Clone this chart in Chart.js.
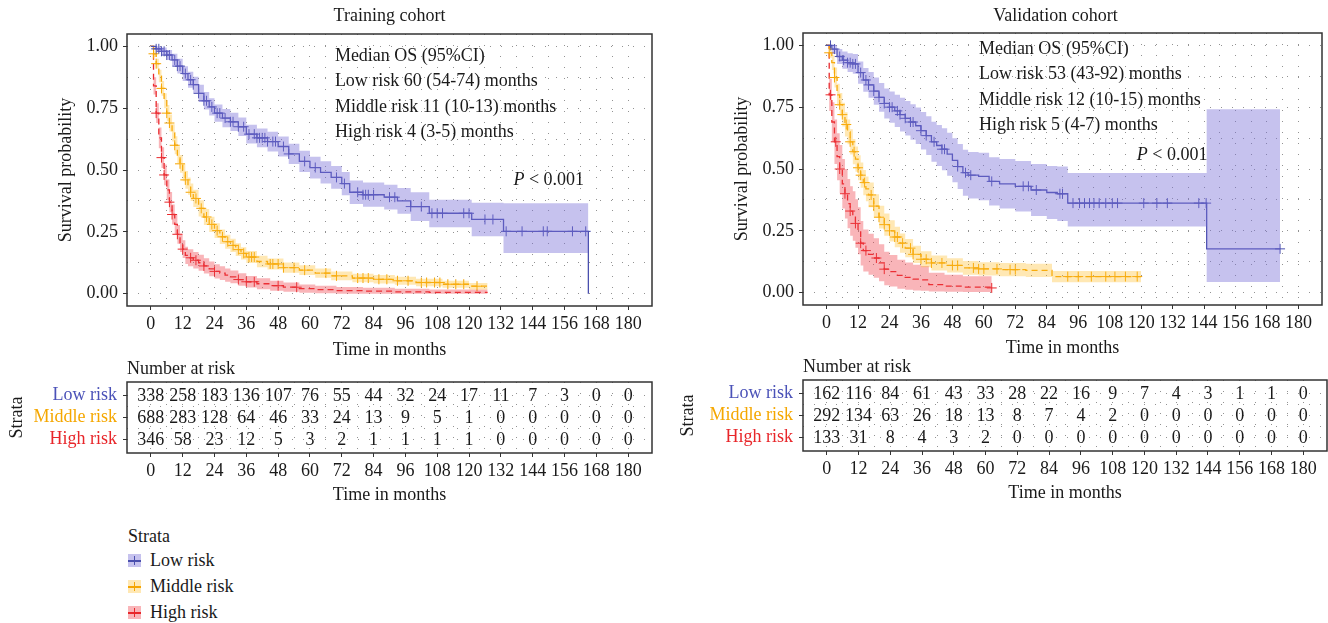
<!DOCTYPE html>
<html>
<head>
<meta charset="utf-8">
<script src="https://cdn.jsdelivr.net/npm/chart.js@4.4.0/dist/chart.umd.min.js"></script>
<style>
  body { margin: 0; width: 1328px; height: 623px; background: #fff; position: relative; overflow: hidden; font-family: 'Liberation Serif', serif; color: #1a1a1a; }
  canvas { position: absolute; }
  #legend { position: absolute; left: 128px; top: 525px; font-size: 18px; }
  #legend .head { height: 22px; line-height: 22px; }
  #legend .item { position: relative; height: 26px; line-height: 26px; padding-left: 22px; }
  #legend .sym { position: absolute; left: 0; top: 7px; width: 13px; height: 13px; }
  #legend .sym i { position: absolute; display: block; }
</style>
</head>
<body>
<canvas id="trainKm" width="664" height="365" style="left:0;top:0"></canvas>
<canvas id="validKm" width="664" height="363" style="left:664px;top:0"></canvas>
<canvas id="trainRisk" width="664" height="150" style="left:0;top:360px"></canvas>
<canvas id="validRisk" width="664" height="150" style="left:664px;top:358px"></canvas>
<div id="legend"></div>

<script>
// ---- tick labels / categories ----
const monthTicks = [0, 12, 24, 36, 48, 60, 72, 84, 96, 108, 120, 132, 144, 156, 168, 180];
const survTicks = [0, 0.25, 0.5, 0.75, 1];
const strata = ['Low risk', 'Middle risk', 'High risk'];

// ---- training cohort: KM estimates, 95% CI, censor times ----
const trLowT  = [0, 2, 4, 6, 8, 10, 12, 14, 16, 18, 20, 22, 24, 27, 30, 33, 36, 40, 44, 48, 52, 56, 60, 64, 68, 72, 75, 80, 88, 93, 98, 105, 121, 133, 165];
const trLowS  = [1, 0.99, 0.98, 0.965, 0.945, 0.92, 0.89, 0.865, 0.845, 0.81, 0.78, 0.755, 0.73, 0.71, 0.695, 0.675, 0.645, 0.63, 0.615, 0.595, 0.565, 0.535, 0.51, 0.49, 0.47, 0.445, 0.41, 0.4, 0.39, 0.375, 0.352, 0.325, 0.3, 0.252, 0];
const trLowHi = [1, 1, 0.995, 0.985, 0.97, 0.95, 0.92, 0.897, 0.877, 0.845, 0.815, 0.79, 0.765, 0.747, 0.732, 0.712, 0.683, 0.668, 0.655, 0.635, 0.606, 0.578, 0.554, 0.535, 0.516, 0.492, 0.458, 0.449, 0.44, 0.427, 0.41, 0.38, 0.368, 0.366, 0.366];
const trLowLo = [1, 0.978, 0.964, 0.945, 0.92, 0.89, 0.86, 0.833, 0.81, 0.775, 0.745, 0.72, 0.695, 0.673, 0.658, 0.638, 0.607, 0.592, 0.575, 0.555, 0.524, 0.492, 0.466, 0.445, 0.424, 0.398, 0.362, 0.351, 0.34, 0.323, 0.294, 0.268, 0.232, 0.164, 0.164];
const trLowC  = [2, 3, 4, 5, 6, 7, 9, 10, 11, 13, 15, 16, 18, 20, 21, 23, 25, 26, 28, 30, 31, 33, 35, 37, 39, 40, 41, 42, 43, 44, 46, 47, 50, 52, 58, 62, 70, 73, 78, 80, 81, 82, 84, 90, 92, 98, 102, 106, 108, 110, 118, 120, 126, 129, 134, 140, 148, 149.5, 159, 164];

const trMidT  = [0, 1, 2, 3, 4, 5, 6, 7, 8, 9, 10, 11, 12, 13, 14, 15, 16, 18, 20, 22, 24, 26, 28, 30, 32, 34, 36, 40, 44, 50, 56, 62, 68, 76, 84, 92, 100, 110, 120, 127];
const trMidS  = [1, 0.97, 0.93, 0.88, 0.83, 0.78, 0.73, 0.69, 0.65, 0.6, 0.56, 0.525, 0.49, 0.46, 0.435, 0.41, 0.385, 0.345, 0.31, 0.28, 0.255, 0.23, 0.21, 0.195, 0.178, 0.163, 0.148, 0.13, 0.12, 0.105, 0.095, 0.083, 0.072, 0.063, 0.058, 0.052, 0.045, 0.038, 0.03, 0.03];
const trMidHi = [1, 0.983, 0.95, 0.905, 0.86, 0.81, 0.763, 0.724, 0.685, 0.636, 0.596, 0.561, 0.526, 0.496, 0.47, 0.445, 0.42, 0.378, 0.342, 0.311, 0.285, 0.259, 0.238, 0.222, 0.204, 0.188, 0.172, 0.153, 0.142, 0.126, 0.115, 0.102, 0.09, 0.08, 0.075, 0.068, 0.06, 0.052, 0.043, 0.043];
const trMidLo = [1, 0.957, 0.91, 0.855, 0.8, 0.75, 0.697, 0.656, 0.615, 0.564, 0.524, 0.489, 0.454, 0.424, 0.4, 0.375, 0.35, 0.312, 0.278, 0.249, 0.225, 0.201, 0.182, 0.168, 0.152, 0.138, 0.124, 0.107, 0.098, 0.084, 0.075, 0.064, 0.054, 0.046, 0.041, 0.036, 0.03, 0.024, 0.017, 0.017];
const trMidC  = [1, 2, 4, 6, 7, 9, 11, 13, 15, 17, 19, 21, 23, 25, 27, 29, 31, 33, 35, 37, 38, 39, 45, 46, 48, 50, 54, 58, 66, 70, 78, 80, 82, 86, 89, 93, 97, 102, 104, 107, 109, 112, 115, 118, 123];

const trHighT  = [0, 1, 2, 3, 4, 5, 6, 7, 8, 9, 10, 11, 12, 13, 14, 16, 18, 20, 22, 24, 26, 28, 30, 33, 36, 40, 45, 50, 56, 62, 70, 80, 92, 105, 127];
const trHighS  = [1, 0.84, 0.73, 0.63, 0.55, 0.48, 0.42, 0.37, 0.32, 0.28, 0.24, 0.205, 0.18, 0.155, 0.145, 0.135, 0.125, 0.112, 0.1, 0.09, 0.083, 0.075, 0.068, 0.057, 0.048, 0.04, 0.032, 0.026, 0.02, 0.016, 0.012, 0.01, 0.007, 0.005, 0.005];
const trHighHi = [1, 0.875, 0.77, 0.672, 0.592, 0.522, 0.462, 0.411, 0.36, 0.319, 0.278, 0.242, 0.216, 0.19, 0.179, 0.168, 0.157, 0.143, 0.13, 0.119, 0.111, 0.102, 0.094, 0.082, 0.071, 0.062, 0.052, 0.045, 0.037, 0.032, 0.027, 0.024, 0.02, 0.017, 0.017];
const trHighLo = [1, 0.805, 0.69, 0.588, 0.508, 0.438, 0.378, 0.329, 0.28, 0.241, 0.202, 0.168, 0.144, 0.12, 0.111, 0.102, 0.093, 0.081, 0.07, 0.061, 0.055, 0.048, 0.042, 0.032, 0.025, 0.018, 0.012, 0.008, 0.004, 0.002, 0, 0, 0, 0, 0];
const trHighC  = [2, 4, 5, 7, 8, 10, 12, 15, 17, 20, 24, 33, 36, 39, 48, 55];

// ---- validation cohort ----
const vaLowT  = [0, 2, 4, 6, 8, 10, 12, 14, 16, 18, 20, 22, 24, 26, 28, 30, 32, 34, 36, 38, 40, 42, 44, 46, 48, 50, 52, 54, 58, 62, 66, 72, 78, 84, 88, 92, 145, 173];
const vaLowS  = [1, 0.985, 0.955, 0.94, 0.93, 0.925, 0.89, 0.86, 0.84, 0.815, 0.79, 0.765, 0.75, 0.735, 0.72, 0.705, 0.69, 0.675, 0.655, 0.635, 0.61, 0.595, 0.58, 0.56, 0.535, 0.51, 0.485, 0.475, 0.47, 0.45, 0.44, 0.43, 0.415, 0.405, 0.4, 0.362, 0.177, 0.177];
const vaLowHi = [1, 1, 0.985, 0.975, 0.968, 0.965, 0.935, 0.908, 0.892, 0.87, 0.848, 0.826, 0.813, 0.8, 0.788, 0.775, 0.762, 0.749, 0.731, 0.713, 0.691, 0.678, 0.665, 0.647, 0.624, 0.601, 0.578, 0.569, 0.566, 0.548, 0.54, 0.532, 0.52, 0.512, 0.51, 0.484, 0.742, 0.742];
const vaLowLo = [1, 0.965, 0.925, 0.905, 0.892, 0.885, 0.845, 0.812, 0.788, 0.76, 0.732, 0.704, 0.687, 0.67, 0.652, 0.635, 0.618, 0.601, 0.579, 0.557, 0.529, 0.512, 0.495, 0.473, 0.446, 0.419, 0.392, 0.381, 0.374, 0.352, 0.34, 0.328, 0.31, 0.298, 0.29, 0.267, 0.043, 0.043];
const vaLowC  = [1.5, 3, 5, 6.5, 8, 9, 10, 11, 13, 15, 16, 18, 20, 22, 24, 25, 27, 28, 30, 32, 33, 36, 38, 41, 44, 45, 50, 53, 55, 63, 75, 77, 80, 89, 90, 94, 96.5, 98.4, 100.3, 102, 104, 106.5, 109, 111, 121, 126, 130, 142, 144.8, 173];

const vaMidT  = [0, 1, 2, 3, 4, 5, 6, 7, 8, 9, 10, 11, 12, 13, 14, 15, 16, 18, 20, 22, 24, 26, 28, 30, 33, 36, 40, 46, 52, 58, 66, 76, 86, 120];
const vaMidS  = [1, 0.97, 0.93, 0.87, 0.8, 0.76, 0.72, 0.68, 0.65, 0.61, 0.57, 0.54, 0.505, 0.475, 0.445, 0.42, 0.395, 0.35, 0.305, 0.275, 0.25, 0.225, 0.2, 0.18, 0.155, 0.135, 0.12, 0.11, 0.1, 0.096, 0.093, 0.09, 0.065, 0.065];
const vaMidHi = [1, 0.99, 0.96, 0.91, 0.845, 0.807, 0.768, 0.729, 0.7, 0.661, 0.621, 0.591, 0.556, 0.526, 0.496, 0.47, 0.445, 0.398, 0.351, 0.32, 0.293, 0.266, 0.239, 0.217, 0.19, 0.167, 0.15, 0.139, 0.128, 0.123, 0.12, 0.117, 0.088, 0.088];
const vaMidLo = [1, 0.95, 0.9, 0.83, 0.755, 0.713, 0.672, 0.631, 0.6, 0.559, 0.519, 0.489, 0.454, 0.424, 0.394, 0.37, 0.345, 0.302, 0.259, 0.23, 0.207, 0.184, 0.161, 0.143, 0.12, 0.103, 0.09, 0.081, 0.072, 0.069, 0.066, 0.063, 0.042, 0.042];
const vaMidC  = [1, 3, 5, 6, 7.5, 9, 10.5, 12, 13, 14.5, 17, 18, 20, 22, 24, 26, 27, 29, 32, 33, 36, 38, 40, 44, 48, 50, 56, 58, 60, 65, 70, 72, 92, 96, 101, 106.5, 110, 114, 118.5];

const vaHighT  = [0, 1, 2, 3, 4, 5, 6, 7, 8, 9, 10, 11, 12, 13, 14, 16, 18, 20, 22, 24, 27, 30, 33, 36, 39, 45, 52, 63];
const vaHighS  = [1, 0.8, 0.69, 0.61, 0.55, 0.5, 0.44, 0.4, 0.36, 0.33, 0.31, 0.28, 0.25, 0.2, 0.17, 0.155, 0.14, 0.12, 0.095, 0.085, 0.07, 0.062, 0.055, 0.052, 0.032, 0.026, 0.022, 0.019];
const vaHighHi = [1, 0.865, 0.77, 0.7, 0.645, 0.597, 0.54, 0.5, 0.46, 0.43, 0.41, 0.378, 0.345, 0.29, 0.255, 0.238, 0.22, 0.196, 0.165, 0.152, 0.133, 0.122, 0.113, 0.108, 0.08, 0.072, 0.066, 0.062];
const vaHighLo = [1, 0.735, 0.61, 0.52, 0.455, 0.403, 0.34, 0.3, 0.26, 0.23, 0.21, 0.182, 0.155, 0.11, 0.085, 0.072, 0.06, 0.046, 0.03, 0.025, 0.016, 0.012, 0.009, 0.008, 0.005, 0.004, 0.003, 0.003];
const vaHighC  = [1.5, 3.5, 5, 7, 9, 11, 13, 15, 19, 22, 63];

// ---- number at risk ----
const trRiskLow  = [338, 258, 183, 136, 107, 76, 55, 44, 32, 24, 17, 11, 7, 3, 0, 0];
const trRiskMid  = [688, 283, 128, 64, 46, 33, 24, 13, 9, 5, 1, 0, 0, 0, 0, 0];
const trRiskHigh = [346, 58, 23, 12, 5, 3, 2, 1, 1, 1, 1, 0, 0, 0, 0, 0];
const vaRiskLow  = [162, 116, 84, 61, 43, 33, 28, 22, 16, 9, 7, 4, 3, 1, 1, 0];
const vaRiskMid  = [292, 134, 63, 26, 18, 13, 8, 7, 4, 2, 0, 0, 0, 0, 0, 0];
const vaRiskHigh = [133, 31, 8, 4, 3, 2, 0, 0, 0, 0, 0, 0, 0, 0, 0, 0];

const trNotes = ['Median OS (95%CI)', 'Low risk 60 (54-74) months', 'Middle risk 11 (10-13) months', 'High risk 4 (3-5) months'];
const vaNotes = ['Median OS (95%CI)', 'Low risk 53 (43-92) months', 'Middle risk 12 (10-15) months', 'High risk 5 (4-7) months'];

// ---- styling ----
const FONT = "'Liberation Serif', serif";
const FS = 18;
const INK = '#1a1a1a';
const colors = { line: ['#4a4fae', '#f5a400', '#e8282b'], band: ['rgba(120,110,215,0.42)', 'rgba(255,188,40,0.35)', 'rgba(240,60,70,0.38)'], text: ['#4b52b8', '#f5a700', '#e8262a'] };
const dashes = [[], [6, 4], [6, 4]];
const DOT = 'rgba(40,40,40,0.5)';

// minor gridlines every 6 months / every 0.125
const gridMonths = [];
for (let i = 0; i < monthTicks.length; i++) {
  gridMonths.push(monthTicks[i]);
  if (i < monthTicks.length - 1) gridMonths.push(monthTicks[i] + 6);
}
const gridSurv = [];
for (let i = 0; i < survTicks.length; i++) {
  gridSurv.push(survTicks[i]);
  if (i < survTicks.length - 1) gridSurv.push(survTicks[i] + 0.125);
}

const pts = (t, v) => t.map((x, i) => ({ x: x, y: v[i] }));
function survAt(t, s, x) {
  let k = 0;
  for (let i = 0; i < t.length; i++) if (t[i] <= x) k = i;
  return s[k];
}

const frameBox = {
  id: 'frameBox',
  afterDraw(chart) {
    const { ctx, chartArea: a } = chart;
    ctx.save();
    ctx.strokeStyle = '#333';
    ctx.lineWidth = 1.5;
    ctx.strokeRect(a.left, a.top, a.right - a.left, a.bottom - a.top);
    ctx.restore();
  }
};

const notes = {
  id: 'notes',
  afterDraw(chart, args, o) {
    const { ctx, chartArea: a, scales: { x, y } } = chart;
    ctx.save();
    ctx.fillStyle = INK;
    ctx.textBaseline = 'middle';
    if (o.title) {
      ctx.font = `${FS}px ${FONT}`;
      ctx.textAlign = o.titleAlign || 'center';
      const tx = o.titleAlign === 'left' ? a.left : (a.left + a.right) / 2 + (o.titleShift || 0);
      ctx.fillText(o.title, tx, o.titleY);
    }
    if (o.lines) {
      ctx.font = `18px ${FONT}`;
      ctx.textAlign = 'left';
      o.lines.forEach((s, i) => ctx.fillText(s, x.getPixelForValue(o.at[0]), y.getPixelForValue(o.at[1]) + i * o.step));
    }
    if (o.p) {
      const px = x.getPixelForValue(o.p[0]), py = y.getPixelForValue(o.p[1]);
      ctx.font = `18px ${FONT}`;
      ctx.textAlign = 'right';
      const rest = ' < 0.001';
      ctx.fillText(rest, px, py);
      const w = ctx.measureText(rest).width;
      ctx.font = `italic 18px ${FONT}`;
      ctx.fillText('P', px - w, py);
    }
    ctx.restore();
  }
};

const riskNumbers = {
  id: 'riskNumbers',
  afterDatasetsDraw(chart, args, o) {
    const { ctx, scales: { x, y } } = chart;
    ctx.save();
    ctx.font = `${FS}px ${FONT}`;
    ctx.fillStyle = INK;
    ctx.textAlign = 'center';
    ctx.textBaseline = 'middle';
    o.rows.forEach((row, r) => row.forEach((n, i) => {
      ctx.fillText(String(n), x.getPixelForValue(monthTicks[i]), y.getPixelForValue(3 - r) + 1);
    }));
    ctx.restore();
  }
};

function xAxis(height) {
  return {
    type: 'linear', min: -9, max: 189,
    afterBuildTicks: s => { s.ticks = gridMonths.map(v => ({ value: v })); },
    afterFit: s => { s.height = height; },
    ticks: { autoSkip: false, maxRotation: 0, padding: 3, color: INK, font: { family: FONT, size: FS },
      callback: v => (v % 12 === 0 ? String(v) : '') },
    grid: { color: DOT, lineWidth: 1, tickLength: 4, tickWidth: 1,
      tickColor: c => (c.tick && c.tick.value % 12 === 0 ? '#333' : 'rgba(0,0,0,0)') },
    border: { display: false, dash: [1, 10] },
    title: { display: true, text: 'Time in months', color: INK, font: { family: FONT, size: FS } }
  };
}

function kmChart(id, curves, pad, yWidth, xHeight, noteOpts) {
  const datasets = [];
  curves.forEach((c, k) => {
    datasets.push({ type: 'line', data: pts(c.t, c.hi), stepped: true, borderColor: 'rgba(0,0,0,0)', borderWidth: 0,
      pointRadius: 0, fill: '+1', backgroundColor: colors.band[k] });
    datasets.push({ type: 'line', data: pts(c.t, c.lo), stepped: true, borderColor: 'rgba(0,0,0,0)', borderWidth: 0,
      pointRadius: 0, fill: false });
  });
  curves.forEach((c, k) => {
    datasets.push({ type: 'line', data: pts(c.t, c.s), stepped: true, borderColor: colors.line[k], borderWidth: 1.3,
      borderDash: dashes[k], pointRadius: 0, fill: false });
    datasets.push({ type: 'scatter', data: c.c.map(x => ({ x: x, y: survAt(c.t, c.s, x) })), pointStyle: 'cross',
      pointRadius: 5, borderColor: colors.line[k], borderWidth: 1, showLine: false });
  });
  return new Chart(document.getElementById(id), {
    type: 'line',
    data: { datasets: datasets },
    options: {
      responsive: false, animation: false, events: [],
      layout: { padding: pad },
      plugins: { legend: { display: false }, tooltip: { enabled: false }, notes: noteOpts },
      scales: {
        x: xAxis(xHeight),
        y: {
          type: 'linear', min: -0.05, max: 1.05,
          afterBuildTicks: s => { s.ticks = gridSurv.map(v => ({ value: v })); },
          afterFit: s => { s.width = yWidth; },
          ticks: { autoSkip: false, padding: 5, color: INK, font: { family: FONT, size: FS },
            callback: v => (survTicks.includes(v) ? v.toFixed(2) : '') },
          grid: { color: DOT, lineWidth: 1, tickLength: 4, tickWidth: 1,
            tickColor: c => (c.tick && survTicks.includes(c.tick.value) ? '#333' : 'rgba(0,0,0,0)') },
          border: { display: false, dash: [1, 10] },
          title: { display: true, text: 'Survival probability', color: INK, font: { family: FONT, size: FS } }
        }
      }
    },
    plugins: [notes, frameBox]
  });
}

function riskChart(id, rows, pad, yWidth, xHeight) {
  return new Chart(document.getElementById(id), {
    type: 'scatter',
    data: { datasets: [] },
    options: {
      responsive: false, animation: false, events: [],
      layout: { padding: pad },
      plugins: { legend: { display: false }, tooltip: { enabled: false },
        notes: { title: 'Number at risk', titleAlign: 'left', titleY: 9 }, riskNumbers: { rows: rows } },
      scales: {
        x: xAxis(xHeight),
        y: {
          type: 'linear', min: 0.4, max: 3.6,
          afterBuildTicks: s => { s.ticks = [1, 1.5, 2, 2.5, 3].map(v => ({ value: v })); },
          afterFit: s => { s.width = yWidth; },
          ticks: { autoSkip: false, padding: 6, font: { family: FONT, size: FS },
            color: c => (c.tick && Number.isInteger(c.tick.value) ? colors.text[3 - c.tick.value] : INK),
            callback: v => (Number.isInteger(v) ? strata[3 - v] : '') },
          grid: { color: DOT, lineWidth: 1, tickLength: 4, tickWidth: 1,
            tickColor: c => (c.tick && Number.isInteger(c.tick.value) ? '#333' : 'rgba(0,0,0,0)') },
          border: { display: false, dash: [1, 10] },
          title: { display: true, text: 'Strata', color: INK, font: { family: FONT, size: FS } }
        }
      }
    },
    plugins: [notes, riskNumbers, frameBox]
  });
}

kmChart('trainKm', [
  { t: trLowT, s: trLowS, hi: trLowHi, lo: trLowLo, c: trLowC },
  { t: trMidT, s: trMidS, hi: trMidHi, lo: trMidLo, c: trMidC },
  { t: trHighT, s: trHighS, hi: trHighHi, lo: trHighLo, c: trHighC }
], { left: 51, top: 34, right: 12, bottom: 0 }, 76, 59,
  { title: 'Training cohort', titleY: 16, lines: trNotes, at: [69.4, 0.96], step: 25.3, p: [163.4, 0.46] });

kmChart('validKm', [
  { t: vaLowT, s: vaLowS, hi: vaLowHi, lo: vaLowLo, c: vaLowC },
  { t: vaMidT, s: vaMidS, hi: vaMidHi, lo: vaMidLo, c: vaMidC },
  { t: vaHighT, s: vaHighS, hi: vaHighHi, lo: vaHighLo, c: vaHighC }
], { left: 63, top: 33, right: 1, bottom: 0 }, 76, 58,
  { title: 'Validation cohort', titleShift: -7, titleY: 16, lines: vaNotes, at: [58.1, 0.984], step: 25.3, p: [145.3, 0.556] });

riskChart('trainRisk', [trRiskLow, trRiskMid, trRiskHigh], { left: 2, top: 22, right: 12, bottom: 0 }, 125, 57);
riskChart('validRisk', [vaRiskLow, vaRiskMid, vaRiskHigh], { left: 9, top: 22, right: 1, bottom: 0 }, 130, 57);

// legend
const legend = document.getElementById('legend');
legend.innerHTML = '<div class="head">Strata</div>' + strata.map((name, k) =>
  `<div class="item"><span class="sym" style="background:${colors.band[k]}">` +
  `<i style="left:0;top:6px;width:13px;height:1.5px;background:${colors.line[k]}"></i>` +
  `<i style="left:6px;top:2px;width:1px;height:9px;background:${colors.line[k]}"></i></span>${name}</div>`
).join('');
</script>
</body>
</html>
